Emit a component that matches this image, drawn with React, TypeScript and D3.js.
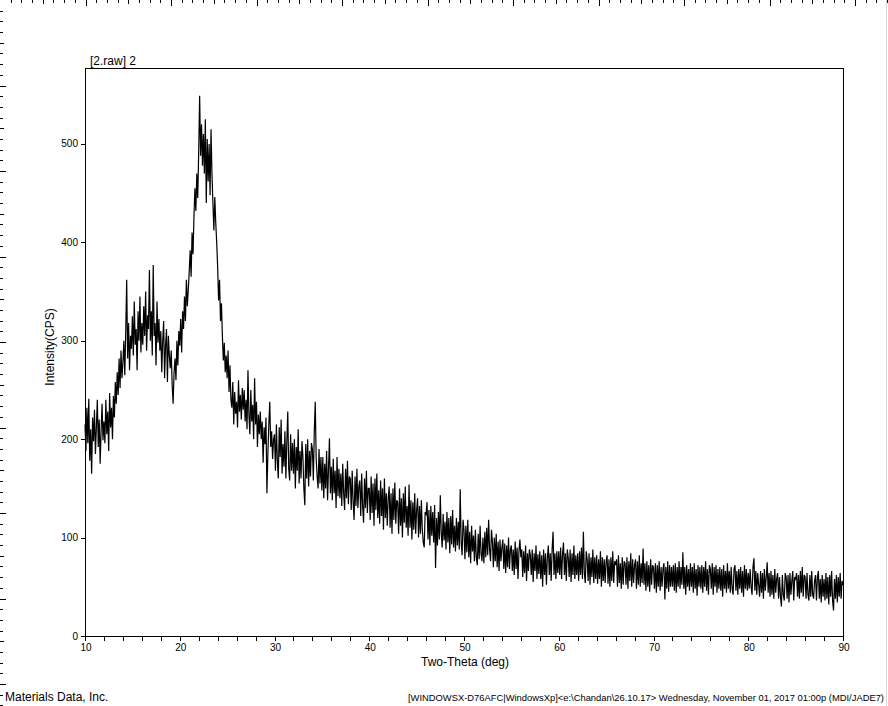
import React from "react";
import * as d3 from "d3";

// Two-theta scan: start 10.0 deg, step 0.1 deg
const scanStart = 10.0;
const scanStep = 0.1;

const cps10 = [
  215, 188, 232, 196, 241, 178, 210, 165, 222, 198,
  230, 185, 212, 240, 192, 220, 175, 208, 236, 199,
  218, 196, 240, 205, 228, 188, 247, 212, 232, 200,
  244, 222, 258, 236, 268, 245, 282, 252, 290, 262,
  278, 300, 265, 310, 362, 282, 318, 270, 305, 292,
  325, 285, 340, 296, 312, 270, 330, 300, 345, 288,
  318, 296, 335, 305, 350, 290, 326, 312, 372, 300,
  330, 285, 377, 305, 318, 275, 340, 298, 322, 290,
  310, 268, 300, 320, 262, 295, 312, 258, 305, 285,
  272, 290, 255, 236, 268, 282, 260, 300, 275, 310,
];
const cps20 = [
  295, 322, 288, 330, 312, 345, 320, 362, 335, 352,
  370, 392, 365, 410, 388, 426, 455, 432, 470, 445,
  492, 549, 488, 520, 478, 510, 470, 525, 440, 505,
  462, 500, 448, 515, 470, 440, 412, 446, 420, 400,
  375, 341, 362, 320, 338, 305, 280, 298, 268, 285,
  262, 290, 248, 275, 240, 232, 258, 215, 248, 226,
  238, 212, 260, 228, 245, 220, 252, 230, 250, 218,
  240, 210, 270, 225, 205, 250, 218, 235, 200, 262,
  215, 238, 192, 225, 205, 228, 200, 218, 176, 212,
  195, 222, 145, 185, 215, 238, 192, 208, 180, 200,
];
const cps30 = [
  205, 168, 215, 178, 160, 212, 182, 220, 165, 195,
  172, 208, 160, 198, 228, 170, 158, 205, 168, 196,
  165, 200, 150, 192, 168, 210, 155, 188, 160, 198,
  182, 150, 133, 195, 160, 200, 152, 188, 162, 196,
  190, 158, 208, 238, 180, 162, 150, 190, 155, 182,
  148, 182, 140, 175, 150, 188, 138, 170, 201, 145,
  172, 138, 180, 145, 168, 130, 182, 142, 170, 140,
  165, 132, 175, 145, 128, 170, 140, 178, 134, 162,
  160, 128, 168, 136, 118, 162, 132, 170, 130, 152,
  158, 122, 165, 132, 115, 160, 130, 168, 125, 150,
];
const cps40 = [
  150, 118, 162, 125, 155, 112, 160, 128, 165, 120,
  148, 114, 158, 122, 150, 108, 160, 120, 145, 112,
  140, 152, 110, 145, 104, 150, 118, 156, 114, 138,
  136, 104, 150, 112, 140, 100, 145, 115, 152, 110,
  132, 102, 154, 110, 138, 98, 136, 108, 145, 104,
  128, 140, 100, 132, 104, 138, 108, 95, 90, 126,
  124, 136, 98, 128, 92, 132, 102, 126, 95, 133,
  69, 120, 92, 126, 98, 143, 104, 90, 124, 97,
  116, 88, 126, 95, 120, 84, 122, 93, 128, 90,
  112, 86, 120, 92, 116, 88, 149, 95, 82, 118,
];
const cps50 = [
  108, 78, 112, 85, 118, 80, 106, 74, 112, 86,
  102, 76, 108, 80, 72, 104, 78, 112, 84, 76,
  100, 74, 106, 80, 110, 82, 118, 88, 76, 108,
  96, 70, 100, 76, 104, 70, 96, 66, 98, 76,
  90, 98, 68, 94, 64, 92, 70, 100, 68, 88,
  92, 66, 88, 62, 96, 68, 90, 58, 86, 98,
  80, 88, 60, 86, 64, 92, 56, 84, 66, 88,
  82, 62, 88, 55, 84, 66, 92, 58, 83, 63,
  86, 58, 82, 50, 88, 62, 84, 52, 80, 92,
  62, 84, 56, 88, 106, 62, 84, 58, 86, 64,
];
const cps60 = [
  86, 62, 90, 58, 83, 95, 62, 84, 56, 88,
  80, 60, 88, 55, 84, 62, 92, 58, 82, 62,
  84, 56, 86, 62, 90, 58, 106, 64, 54, 86,
  78, 56, 84, 52, 80, 60, 88, 54, 80, 58,
  82, 53, 78, 58, 86, 50, 80, 56, 78, 54,
  76, 82, 53, 78, 50, 80, 56, 86, 54, 76,
  72, 78, 50, 82, 54, 74, 48, 80, 52, 76,
  74, 52, 80, 48, 76, 56, 84, 50, 78, 54,
  72, 78, 48, 76, 52, 82, 50, 74, 54, 89,
  52, 74, 46, 76, 50, 72, 45, 78, 52, 72,
];
const cps70 = [
  70, 48, 74, 44, 72, 50, 76, 46, 70, 50,
  68, 74, 37, 70, 48, 76, 45, 72, 50, 70,
  50, 72, 46, 74, 44, 70, 50, 76, 48, 70,
  52, 85, 48, 70, 42, 72, 50, 68, 46, 74,
  50, 70, 44, 74, 48, 68, 41, 72, 50, 70,
  48, 72, 44, 70, 50, 76, 46, 68, 42, 72,
  68, 48, 74, 42, 70, 50, 72, 44, 68, 48,
  70, 46, 68, 40, 72, 48, 66, 44, 74, 48,
  66, 44, 70, 48, 42, 68, 72, 46, 66, 42,
  68, 48, 70, 44, 66, 40, 72, 48, 68, 46,
];
const cps80 = [
  64, 48, 68, 50, 42, 70, 79, 46, 66, 42,
  64, 52, 40, 66, 44, 64, 38, 68, 46, 60,
  75, 44, 64, 40, 66, 42, 62, 38, 68, 44,
  58, 64, 38, 60, 40, 30, 62, 42, 36, 64,
  60, 38, 62, 34, 64, 42, 56, 66, 36, 60,
  58, 64, 40, 62, 38, 66, 44, 70, 40, 62,
  60, 38, 64, 42, 36, 62, 40, 66, 42, 38,
  56, 62, 36, 60, 66, 38, 58, 34, 62, 40,
  58, 36, 64, 38, 60, 32, 62, 40, 66, 36,
  26, 58, 38, 62, 34, 60, 40, 64, 38, 56,
  52,
];

const xTickMajor = [10, 20, 30, 40, 50, 60, 70, 80, 90];
const xTickMinorStep = 2;
const yTickValues = [0, 100, 200, 300, 400, 500];

const titleText = "[2.raw] 2";
const xAxisTitle = "Two-Theta (deg)";
const yAxisTitle = "Intensity(CPS)";
const footerLeft = "Materials Data, Inc.";
const footerRight =
  "[WINDOWSX-D76AFC|WindowsXp]<e:\\Chandan\\26.10.17> Wednesday, November 01, 2017 01:00p (MDI/JADE7)";

const W = 888;
const H = 706;
const plot = { left: 85, right: 843, top: 68, bottom: 636 };
const font = "'Liberation Sans', Arial, sans-serif";

export default function App() {
  const values = [...cps10, ...cps20, ...cps30, ...cps40, ...cps50, ...cps60, ...cps70, ...cps80];
  const data: [number, number][] = values.map((v, i) => [scanStart + i * scanStep, v]);

  const x = d3.scaleLinear().domain([10, 90]).range([plot.left, plot.right]);
  const y = d3.scaleLinear().domain([0, 577.2]).range([plot.bottom, plot.top]);

  const line = d3
    .line<[number, number]>()
    .x((d) => x(d[0]))
    .y((d) => y(d[1]));

  const minorTicks = d3.range(10, 90.001, xTickMinorStep);

  // page ruler ticks
  const rulerStep = 85.5 / 8;
  const topRuler = d3.range(0, W, rulerStep);
  const leftRuler = d3.range(0, H, rulerStep);
  const rulerLen = (i: number) => (i % 8 === 0 ? 6 : i % 4 === 0 ? 4 : 3);

  return (
    <svg
      width={W}
      height={H}
      style={{ position: "absolute", left: 0, top: 0, background: "#fff" }}
      fontFamily={font}
    >
      <rect x={0} y={0} width={W} height={H} fill="#fff" />
      {/* rulers */}
      {topRuler.map((p, i) =>
        i === 0 ? null : (
          <line key={"tr" + i} x1={Math.round(p) + 0.5} x2={Math.round(p) + 0.5} y1={0} y2={rulerLen(i)} stroke="#000" />
        )
      )}
      {leftRuler.map((p, i) =>
        i === 0 ? null : (
          <line key={"lr" + i} y1={Math.round(p) + 0.5} y2={Math.round(p) + 0.5} x1={0} x2={rulerLen(i)} stroke="#000" />
        )
      )}
      <line x1={886.5} x2={886.5} y1={0} y2={H} stroke="#d8d8d8" />

      {/* data */}
      <path d={line(data) || ""} fill="none" stroke="#000" strokeWidth={1.2} />

      {/* frame */}
      <rect
        x={plot.left + 0.5}
        y={plot.top + 0.5}
        width={plot.right - plot.left}
        height={plot.bottom - plot.top}
        fill="none"
        stroke="#000"
        strokeWidth={1}
      />

      {/* x ticks */}
      {minorTicks.map((t) => (
        <line
          key={"xt" + t}
          x1={Math.round(x(t)) + 0.5}
          x2={Math.round(x(t)) + 0.5}
          y1={plot.bottom}
          y2={plot.bottom + 5}
          stroke="#000"
        />
      ))}
      {xTickMajor.map((t) => (
        <text key={"xl" + t} x={x(t) + 1} y={651} fontSize={10} textAnchor="middle" fill="#000">
          {t}
        </text>
      ))}

      {/* y ticks */}
      {yTickValues.map((t) => (
        <g key={"yt" + t}>
          <line
            x1={plot.left - 4}
            x2={plot.left}
            y1={Math.round(y(t)) + 0.5}
            y2={Math.round(y(t)) + 0.5}
            stroke="#000"
          />
          <text x={plot.left - 7} y={y(t) + 3.5} fontSize={10} textAnchor="end" fill="#000">
            {t}
          </text>
        </g>
      ))}

      <text x={90} y={65} fontSize={12} fill="#000">
        {titleText}
      </text>
      <text x={465} y={666} fontSize={12} textAnchor="middle" fill="#000">
        {xAxisTitle}
      </text>
      <text
        transform={`translate(54, ${(plot.top + plot.bottom) / 2 - 5}) rotate(-90)`}
        fontSize={12}
        textAnchor="middle"
        fill="#000"
      >
        {yAxisTitle}
      </text>
      <text x={5} y={701} fontSize={12} fill="#000">
        {footerLeft}
      </text>
      <text x={408} y={701} fontSize={9} fill="#000" textLength={476} lengthAdjust="spacingAndGlyphs">
        {footerRight}
      </text>
    </svg>
  );
}
